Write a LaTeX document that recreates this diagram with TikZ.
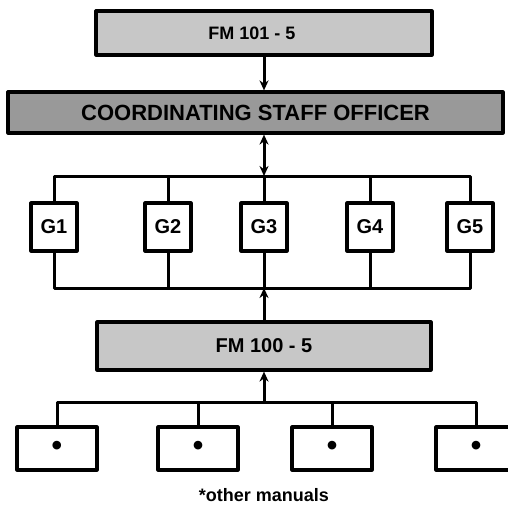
\documentclass[tikz,border=0pt]{standalone}
\usepackage{fontspec}
\setmainfont{Liberation Sans}
\usetikzlibrary{arrows.meta}

\begin{document}
\begin{tikzpicture}[x=1pt,y=-1pt,>={Stealth[length=10pt,width=9pt]},line join=round,line width=3pt,
  fmbox/.style={draw,line width=3.2pt,fill=black!22,inner sep=0pt,minimum width=336pt,minimum height=44pt,font=\bfseries\fontsize{18}{20}\selectfont},
  csobox/.style={draw,line width=3.2pt,fill=black!40,inner sep=0pt,minimum width=495pt,minimum height=41pt,font=\bfseries\fontsize{22}{24}\selectfont},
  gbox/.style={draw,line width=3.2pt,fill=white,inner sep=0pt,minimum width=46pt,minimum height=48pt,font=\bfseries\fontsize{20}{22}\selectfont},
  manbox/.style={draw,line width=3.2pt,fill=white,inner sep=0pt,minimum width=80pt,minimum height=43pt,font=\bfseries\fontsize{30}{32}\selectfont}]
\useasboundingbox (0,0) rectangle (508,507);
% manuals and staff
\node[fmbox] (fm101) at (264,33) {FM 101 - 5\hspace*{24pt}};
\node[csobox] (cso) at (255.5,112.5) {COORDINATING STAFF OFFICER};
\foreach \x/\n in {54/1,168/2,264/3,370/4,470/5}
  \node[gbox] (g\n) at (\x,227) {G\n};
\node[fmbox,minimum width=334pt,minimum height=48pt,font=\bfseries\fontsize{20}{22}\selectfont] (fm100) at (264,346) {FM 100 - 5};
\foreach \x/\n in {57/1,198/2,332/3,476/4}
  \node[manbox] (m\n) at (\x,448.5) {\textbullet};
\node[font=\bfseries\fontsize{18}{20}\selectfont] (note) at (264,495) {*other manuals};
% buses
\coordinate (tbus) at (264,176);
\coordinate (lbus) at (264,288);
\coordinate (bbus) at (264,402);
% connectors
\draw[->] (fm101.south) -- (cso.north -| fm101.south);
\draw[<->] (cso.south -| g3) -- (tbus);
\draw (g1.north) |- (tbus) -| (g5.north);
\draw (g1.south) |- (lbus) -| (g5.south);
\foreach \n in {2,3,4} {
  \draw (g\n.north) -- (g\n.north |- tbus);
  \draw (g\n.south) -- (g\n.south |- lbus);
}
\draw[->] (fm100.north) -- (lbus);
\draw[->] (bbus) -- (fm100.south);
\draw (m1.north) |- (bbus) -| (m4.north);
\foreach \n in {2,3}
  \draw (m\n.north) -- (m\n.north |- bbus);
\end{tikzpicture}
\end{document}
